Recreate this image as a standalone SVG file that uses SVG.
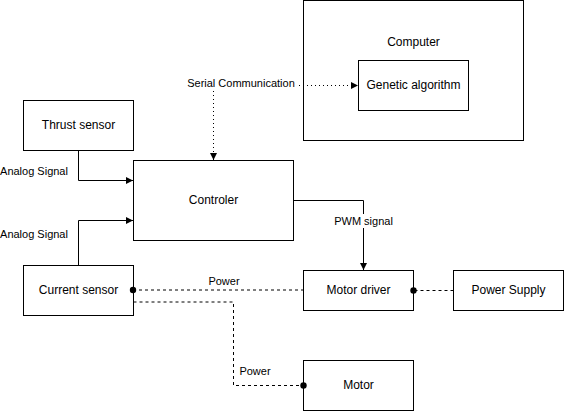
<svg xmlns="http://www.w3.org/2000/svg" width="564" height="411" viewBox="0 0 564 411">
<style>
.box{fill:#fff;stroke:#000;stroke-width:1}
.t{font-family:"Liberation Sans",Arial,sans-serif;font-size:12px;fill:#000;text-anchor:middle;dominant-baseline:central}
.l{font-family:"Liberation Sans",Arial,sans-serif;font-size:11px;fill:#000;text-anchor:middle;dominant-baseline:central}
.e{fill:none;stroke:#000;stroke-width:1}
.dot{stroke-dasharray:1 3}
.dash{stroke-dasharray:3 3}
</style>
<defs>
<marker id="arr" viewBox="0 0 8 8" refX="7" refY="4" markerWidth="8" markerHeight="8" markerUnits="userSpaceOnUse" orient="auto">
<path d="M0,0.5 L7,4 L0,7.5 Z" fill="#000"/>
</marker>
<marker id="arrs" viewBox="0 0 8 8" refX="7" refY="4" markerWidth="8" markerHeight="8" markerUnits="userSpaceOnUse" orient="auto-start-reverse">
<path d="M0,0.5 L7,4 L0,7.5 Z" fill="#000"/>
</marker>
<marker id="dotm" viewBox="0 0 8 8" refX="4" refY="4" markerWidth="8" markerHeight="8" markerUnits="userSpaceOnUse" orient="auto">
<circle cx="4" cy="4" r="3.2" fill="#000"/>
</marker>
</defs>
<g id="computer"><rect class="box" x="303.5" y="0.5" width="220" height="140"/><text class="t" x="413.5" y="42">Computer</text></g>
<g id="genetic"><rect class="box" x="358.5" y="60.5" width="110" height="50"/><text class="t" x="413.5" y="85">Genetic algorithm</text></g>
<g id="thrust"><rect class="box" x="23.5" y="100.5" width="110" height="50"/><text class="t" x="78.5" y="125">Thrust sensor</text></g>
<g id="controler"><rect class="box" x="133.5" y="160.5" width="160" height="80"/><text class="t" x="213.5" y="200">Controler</text></g>
<g id="current"><rect class="box" x="23.5" y="265.5" width="110" height="50"/><text class="t" x="78.5" y="290">Current sensor</text></g>
<g id="driver"><rect class="box" x="303.5" y="270.5" width="110" height="40"/><text class="t" x="358.5" y="290">Motor driver</text></g>
<g id="supply"><rect class="box" x="453.5" y="270.5" width="110" height="40"/><text class="t" x="508.5" y="290">Power Supply</text></g>
<g id="motor"><rect class="box" x="303.5" y="360.5" width="110" height="50"/><text class="t" x="358.5" y="385">Motor</text></g>
<g id="connectors">
<path class="e" d="M78.5,150.5 V180.5 H133" marker-end="url(#arr)"/>
<path class="e" d="M78.5,265.5 V220.5 H133" marker-end="url(#arr)"/>
<path class="e dot" d="M213.5,160 V85.5 H358" marker-start="url(#arrs)" marker-end="url(#arr)"/>
<path class="e" d="M293.5,200.5 H363.5 V270" marker-end="url(#arr)"/>
<path class="e dash" d="M133,290 H303"  marker-start="url(#dotm)"/>
<path class="e dash" d="M453.5,290.5 H413.5" marker-end="url(#dotm)"/>
<path class="e dash" d="M133.5,302 H233.5 V385.5 H303.5" marker-end="url(#dotm)"/>
<rect x="186" y="76" width="110" height="14" fill="#fff"/>
<text class="l" x="241" y="83">Serial Communication</text>
<text class="l" x="34" y="171">Analog Signal</text>
<text class="l" x="34" y="234">Analog Signal</text>
<rect x="333" y="214" width="61" height="14" fill="#fff"/>
<text class="l" x="363.5" y="221">PWM signal</text>
<text class="l" x="224" y="281">Power</text>
<text class="l" x="255" y="371">Power</text>
</g>
</svg>
